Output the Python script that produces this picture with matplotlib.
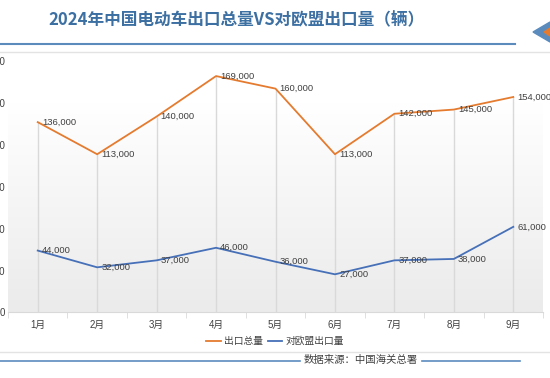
import matplotlib.pyplot as plt
import numpy as np
from matplotlib.colors import LinearSegmentedColormap
from matplotlib.patches import Polygon

plt.rcParams['font.family'] = ['Liberation Sans', 'Noto Sans CJK SC']

months = ['1月', '2月', '3月', '4月', '5月', '6月', '7月', '8月', '9月']
total_export = [136000, 113000, 140000, 169000, 160000, 113000, 142000, 145000, 154000]
eu_export = [44000, 32000, 37000, 46000, 36000, 27000, 37000, 38000, 61000]
yticks = [0, 30000, 60000, 90000, 120000, 150000, 180000]

TITLE = '2024年中国电动车出口总量VS对欧盟出口量（辆）'
SOURCE = '数据来源：中国海关总署'
ORANGE = '#e47b2f'
BLUE = '#4670b8'
TEXT = '#404040'
GRID = '#d9d9d9'

W, H = 550, 378
fig = plt.figure(figsize=(W / 100, H / 100), dpi=100)
fig.patch.set_facecolor('white')

ax = fig.add_axes([8 / W, 1 - 312 / H, 535 / W, (312 - 60.7) / H])
x = np.arange(len(months))
ax.set_xlim(-0.5, len(months) - 0.5)
ax.set_ylim(0, 180000)

# soft gradient background of the plot area
grad = np.linspace(0, 1, 100).reshape(-1, 1)
cmap = LinearSegmentedColormap.from_list('bg', ['#ebebeb', '#ffffff'])
ax.imshow(grad, aspect='auto', cmap=cmap, origin='lower',
          extent=(-0.5, len(months) - 0.5, 0, 150000), zorder=0)

# drop lines
tops = [max(a, b) for a, b in zip(total_export, eu_export)]
ax.vlines(x, 0, tops, color=GRID, lw=1, zorder=1)

ax.plot(x, total_export, color=ORANGE, lw=1.3, zorder=3, label='出口总量')
ax.plot(x, eu_export, color=BLUE, lw=1.3, zorder=3, label='对欧盟出口量')

for xi, v in zip(x, total_export):
    ax.annotate(f'{v:,}', (xi, v), xytext=(3, 0), textcoords='offset points',
                ha='left', va='center', fontsize=6.8, color=TEXT, zorder=4)
for xi, v in zip(x, eu_export):
    ax.annotate(f'{v:,}', (xi, v), xytext=(3, 0), textcoords='offset points',
                ha='left', va='center', fontsize=6.8, color=TEXT, zorder=4)

for s in ['top', 'right', 'left']:
    ax.spines[s].set_visible(False)
ax.spines['bottom'].set_color(GRID)
ax.set_yticks(yticks)
ax.set_yticklabels([f'{t:,}' for t in yticks])
ax.tick_params(axis='y', length=0, pad=2, labelsize=7, labelcolor=TEXT)
ax.set_xticks(x)
ax.set_xticklabels(months)
ax.set_xticks(np.arange(-0.5, len(months)), minor=True)
ax.tick_params(axis='x', which='major', length=0, pad=6, labelsize=7, labelcolor=TEXT)
ax.tick_params(axis='x', which='minor', length=4, color=GRID)

leg = fig.legend(loc='center', bbox_to_anchor=(0.5, 1 - 341 / H), ncol=2, frameon=False,
                 fontsize=7, handlelength=1.5, handletextpad=0.3, columnspacing=0.5)
for t in leg.get_texts():
    t.set_color(TEXT)

# title and decorations
fig.text(236 / W, 1 - 20 / H, TITLE, ha='center', va='center', fontsize=12,
         fontweight='bold', color='#3c6fa2', family='Noto Sans CJK SC')
fig.add_artist(plt.Line2D([0, 515 / W], [1 - 44 / H] * 2, color='#5b8bbd', lw=1.5))
fig.add_artist(plt.Line2D([0, 1], [1 - 52 / H] * 2, color='#e3e3e3', lw=1))
fig.add_artist(Polygon([[533 / W, 1 - 32 / H], [550 / W, 1 - 22 / H], [550 / W, 1 - 42 / H]],
                       closed=True, color='#5b8bbd', transform=fig.transFigure))
fig.add_artist(Polygon([[544 / W, 1 - 32 / H], [550 / W, 1 - 28 / H], [550 / W, 1 - 36 / H]],
                       closed=True, color=ORANGE, transform=fig.transFigure))
fig.add_artist(plt.Line2D([0, 1], [1 - 352 / H] * 2, color='#e3e3e3', lw=1))
fig.add_artist(plt.Line2D([0, 300 / W], [1 - 361 / H] * 2, color='#5b8bbd', lw=1.2))
fig.add_artist(plt.Line2D([422 / W, 520 / W], [1 - 361 / H] * 2, color='#5b8bbd', lw=1.2))
fig.text(361 / W, 1 - 360 / H, SOURCE, ha='center', va='center', fontsize=7.5,
         color=TEXT, family='Noto Sans CJK SC')

fig.savefig('out.png', dpi=100)
